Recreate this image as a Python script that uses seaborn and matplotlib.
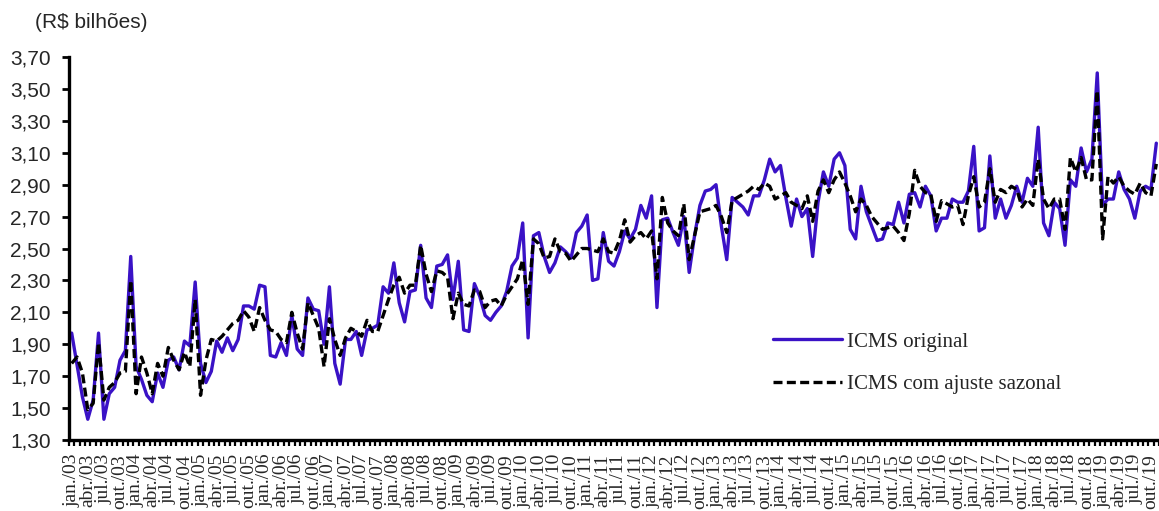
import numpy as np
import pandas as pd
import seaborn as sns
import matplotlib.pyplot as plt
from matplotlib.ticker import FuncFormatter

# ---------------- data (R$ bilhões), monthly jan/03 .. nov/19 ----------------
anos = list(range(2003, 2020))
meses_trimestre = ['jan.', 'abr.', 'jul.', 'out.']

icms_original = [
    1.97, 1.77, 1.57, 1.43, 1.55, 1.97, 1.43, 1.59, 1.63, 1.80, 1.86, 2.45,
    1.76, 1.68, 1.58, 1.54, 1.72, 1.63, 1.80, 1.82, 1.74, 1.92, 1.89, 2.29,
    1.78, 1.66, 1.73, 1.92, 1.85, 1.94, 1.86, 1.93, 2.14, 2.14, 2.12, 2.27,
    2.26, 1.83, 1.82, 1.91, 1.83, 2.08, 1.87, 1.83, 2.19, 2.12, 2.11, 1.90,
    2.26, 1.78, 1.65, 1.93, 1.93, 1.98, 1.83, 1.99, 2.00, 2.02, 2.26, 2.22,
    2.41, 2.16, 2.04, 2.23, 2.24, 2.52, 2.19, 2.13, 2.39, 2.40, 2.46, 2.18,
    2.42, 1.99, 1.98, 2.28, 2.20, 2.08, 2.05, 2.10, 2.14, 2.23, 2.39, 2.44,
    2.66, 1.94, 2.58, 2.60, 2.45, 2.35, 2.41, 2.51, 2.48, 2.44, 2.60, 2.64,
    2.71, 2.30, 2.31, 2.60, 2.42, 2.39, 2.48, 2.61, 2.56, 2.62, 2.77, 2.69,
    2.83, 2.13, 2.68, 2.69, 2.60, 2.52, 2.70, 2.35, 2.58, 2.77, 2.86, 2.87,
    2.90, 2.64, 2.43, 2.82, 2.79, 2.76, 2.71, 2.83, 2.83, 2.93, 3.06, 2.98,
    3.02, 2.82, 2.64, 2.81, 2.70, 2.75, 2.45, 2.79, 2.98, 2.89, 3.06, 3.10,
    3.02, 2.62, 2.56, 2.89, 2.73, 2.64, 2.55, 2.56, 2.66, 2.65, 2.79, 2.66,
    2.84, 2.85, 2.76, 2.89, 2.83, 2.61, 2.69, 2.69, 2.81, 2.79, 2.79, 2.86,
    3.14, 2.61, 2.63, 3.08, 2.69, 2.81, 2.69, 2.77, 2.89, 2.79, 2.94, 2.89,
    3.26, 2.66, 2.58, 2.79, 2.75, 2.52, 2.93, 2.89, 3.13, 2.98, 3.06, 3.60,
    2.77, 2.81, 2.81, 2.98, 2.87, 2.81, 2.69, 2.86, 2.89, 2.87, 3.16,
]

icms_ajustado = [
    1.78, 1.82, 1.72, 1.49, 1.53, 1.91, 1.55, 1.63, 1.66, 1.72, 1.73, 2.30,
    1.59, 1.82, 1.72, 1.59, 1.78, 1.70, 1.88, 1.80, 1.74, 1.85, 1.76, 2.18,
    1.58, 1.80, 1.93, 1.92, 1.95, 1.99, 2.03, 2.05, 2.11, 2.07, 1.98, 2.13,
    2.05, 1.99, 1.98, 1.93, 1.91, 2.10, 1.97, 1.87, 2.16, 2.08, 2.00, 1.76,
    2.06, 1.93, 1.83, 1.94, 2.00, 1.98, 1.95, 2.05, 1.98, 1.98, 2.08, 2.18,
    2.27, 2.32, 2.22, 2.27, 2.27, 2.52, 2.34, 2.23, 2.36, 2.35, 2.32, 2.06,
    2.22, 2.15, 2.14, 2.24, 2.23, 2.13, 2.17, 2.18, 2.14, 2.21, 2.26, 2.31,
    2.43, 2.15, 2.56, 2.53, 2.44, 2.45, 2.56, 2.48, 2.47, 2.42, 2.46, 2.50,
    2.50, 2.49, 2.48, 2.56, 2.48, 2.47, 2.55, 2.68, 2.54, 2.58, 2.60, 2.56,
    2.61, 2.31, 2.82, 2.66, 2.61, 2.58, 2.78, 2.43, 2.58, 2.73, 2.74, 2.75,
    2.77, 2.70, 2.60, 2.80, 2.82, 2.84, 2.86, 2.89, 2.87, 2.91, 2.89, 2.81,
    2.83, 2.85, 2.79, 2.77, 2.75, 2.83, 2.67, 2.86, 2.93, 2.85, 2.93, 2.98,
    2.91, 2.83, 2.73, 2.81, 2.77, 2.70, 2.66, 2.62, 2.63, 2.64, 2.60, 2.55,
    2.72, 2.99, 2.89, 2.85, 2.84, 2.67, 2.80, 2.78, 2.76, 2.77, 2.65, 2.83,
    2.95, 2.76, 2.79, 3.00, 2.79, 2.87, 2.85, 2.89, 2.87, 2.76, 2.81, 2.77,
    3.06, 2.81, 2.75, 2.81, 2.81, 2.62, 3.07, 2.98, 3.07, 2.93, 2.93, 3.49,
    2.56, 2.95, 2.91, 2.95, 2.89, 2.86, 2.84, 2.91, 2.85, 2.83, 3.03,
]

serie_nomes = ['ICMS original', 'ICMS com ajuste sazonal']
cores = {'ICMS original': '#3A12C6', 'ICMS com ajuste sazonal': '#000000'}

# ---------------- figure ----------------
sns.set_theme(style='white')
plt.rcParams['font.family'] = ['Liberation Sans', 'DejaVu Sans']

n = len(icms_original)
idx = np.arange(n)
df = pd.DataFrame({'idx': idx,
                   serie_nomes[0]: icms_original,
                   serie_nomes[1]: icms_ajustado})
df = df.melt(id_vars='idx', var_name='serie', value_name='valor')

W, H = 1159, 511
fig = plt.figure(figsize=(W / 100, H / 100), dpi=100)
ax = fig.add_axes([69 / W, 71 / H, 1090 / W, 383 / H])

sns.lineplot(data=df, x='idx', y='valor', hue='serie', style='serie',
             hue_order=serie_nomes, style_order=serie_nomes,
             palette=cores,
             dashes={serie_nomes[0]: '', serie_nomes[1]: (2.7, 1.3)},
             linewidth=2.4, ax=ax, legend=True)

ax.set_xlim(-0.5, n - 0.5)
ax.set_ylim(1.30, 3.70)
ax.set_xlabel('')
ax.set_ylabel('')

# x ticks: quarterly labels, tick marks at every month boundary
tick_pos = np.arange(0, n, 3)
tick_labels = [f"{meses_trimestre[(p % 12) // 3]}/{str(anos[p // 12])[2:]}" for p in tick_pos]
ax.set_xticks(tick_pos)
ax.set_xticklabels(tick_labels, rotation=90, fontfamily='Liberation Serif',
                   fontsize=14, va='top', ha='center')
ax.set_xticks(np.arange(-0.5, n, 1), minor=True)
ax.tick_params(axis='x', which='major', length=0, pad=10)
ax.tick_params(axis='x', which='minor', length=4.5, width=1.6, color='black',
               direction='out', bottom=True)

# y ticks
ax.set_yticks(np.round(np.arange(1.30, 3.71, 0.20), 2))
ax.yaxis.set_major_formatter(FuncFormatter(lambda v, p: f"{v:.2f}".replace('.', ',')))
ax.tick_params(axis='y', which='major', length=5, width=2, color='black',
               direction='out', left=True, pad=8, labelsize=15)

for s in ['top', 'right']:
    ax.spines[s].set_visible(False)
for s in ['left', 'bottom']:
    ax.spines[s].set_linewidth(2.4)
    ax.spines[s].set_color('black')
ax.grid(False)

fig.text(35 / W, 1 - 22 / H, '(R$ bilhões)', fontsize=15, va='center', ha='left')

handles, labels = ax.get_legend_handles_labels()
ax.legend(handles, labels, frameon=False, loc='upper left',
          bbox_to_anchor=(773 / W, 1 - 332 / H), bbox_transform=fig.transFigure,
          prop={'family': 'Liberation Serif', 'size': 15},
          handlelength=3.3, handletextpad=0.25, labelspacing=1.1,
          borderpad=0, borderaxespad=0)

fig.savefig('out.png', dpi=100)
